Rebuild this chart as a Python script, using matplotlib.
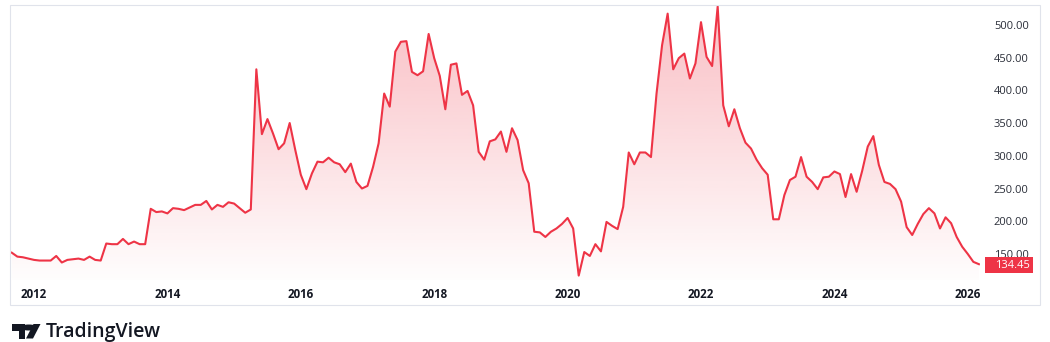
import numpy as np
import pandas as pd
import matplotlib
matplotlib.use("Agg")
import matplotlib.pyplot as plt
from matplotlib.patches import Polygon, Rectangle, Circle

# monthly closes, Sep 2011 .. Mar 2026
start = "2011-09-01"
values = [
    152, 146, 145, 143, 141, 140, 140, 140, 147, 137, 141, 142, 143, 141, 146, 141,
    140, 166, 165, 165, 173, 165, 169, 165, 165, 219, 214, 215, 212, 220, 219, 217,
    221, 225, 225, 231, 218, 225, 222, 229, 227, 220, 213, 218, 432, 333, 356, 334,
    310, 319, 350, 309, 271, 249, 273, 291, 290, 297, 290, 287, 275, 288, 260, 250,
    254, 283, 319, 395, 375, 459, 474, 475, 428, 423, 429, 486, 449, 422, 371, 439,
    441, 393, 399, 377, 306, 294, 322, 325, 337, 306, 342, 324, 278, 258, 184, 183,
    176, 184, 189, 196, 205, 189, 117, 153, 147, 165, 154, 199, 193, 188, 222, 305,
    287, 305, 305, 298, 395, 469, 517, 432, 449, 456, 418, 441, 504, 451, 437, 528,
    377, 345, 371, 342, 320, 311, 294, 281, 271, 203, 203, 240, 263, 268, 298, 268,
    260, 249, 267, 268, 276, 272, 237, 272, 245, 277, 314, 330, 286, 260, 257, 249,
    230, 191, 179, 196, 211, 220, 212, 189, 206, 197, 176, 161, 150, 138, 134.45,
]
year_ticks = [2012, 2014, 2016, 2018, 2020, 2022, 2024, 2026]
price_ticks = [150, 200, 250, 300, 350, 400, 450, 500]
last_price = values[-1]

dates = pd.date_range(start, periods=len(values), freq="MS")
t = np.array(dates.year + (dates.month - 1) / 12.0)
v = np.array(values, dtype=float)

red = "#ee3446"
text_col = "#131722"
W, H = 1050, 342

fig = plt.figure(figsize=(W / 100, H / 100), dpi=100)
fig.patch.set_facecolor("white")
plt.rcParams["font.family"] = ["Open Sans", "DejaVu Sans"]

# pane: x 10..980, y 5..280 (pixels)
ax = fig.add_axes([10 / W, (H - 280) / H, 970 / W, 275 / H])
ax.set_facecolor("white")
x_lo, x_hi = 2011.640, 2026.183
y_lo, y_hi = 110.3, 530.2
ax.set_xlim(x_lo, x_hi)
ax.set_ylim(y_lo, y_hi)

# gradient area under the line
rgb = matplotlib.colors.to_rgb(red)
n = 256
grad = np.zeros((n, 1, 4))
grad[..., 0], grad[..., 1], grad[..., 2] = rgb
grad[:, 0, 3] = np.linspace(0.32, 0.01, n)
im = ax.imshow(grad, extent=[x_lo, x_hi, y_lo, y_hi], aspect="auto",
               origin="upper", zorder=1, interpolation="bilinear")
verts = [(t[0], y_lo)] + list(zip(t, v)) + [(t[-1], y_lo)]
clip = Polygon(verts, closed=True, facecolor="none", edgecolor="none",
               transform=ax.transData)
ax.add_patch(clip)
im.set_clip_path(clip)

ax.plot(t, v, color=red, lw=1.5, zorder=3)

for s in ax.spines.values():
    s.set_visible(False)

ax.yaxis.tick_right()
ax.set_yticks(price_ticks)
ax.set_yticklabels([f"{p:.2f}" for p in price_ticks])
ax.tick_params(axis="y", length=0, pad=10, labelsize=8, labelcolor="#2a2e39")
ax.set_xticks(year_ticks)
ax.set_xticklabels([str(y) for y in year_ticks], fontweight="bold")
ax.tick_params(axis="x", length=0, pad=6, labelsize=8.3, labelcolor=text_col)
ax.grid(False)

# last price tag
fig.patches.append(Rectangle((985 / W, (H - 273) / H), 48 / W, 16 / H,
                             transform=fig.transFigure, facecolor=red,
                             edgecolor="none", zorder=5))
fig.text(995 / W, (H - 265) / H, f"{last_price:.2f}", color="white",
         fontsize=8, ha="left", va="center", zorder=6)

# outer frame
fig.patches.append(Rectangle((10 / W, (H - 305) / H), 1030 / W, 300 / H,
                             transform=fig.transFigure, facecolor="none",
                             edgecolor="#e0e3eb", lw=0.8))

# TradingView logo
def fp(x, y):
    return (x / W, (H - y) / H)

fig.patches.append(Polygon([fp(11.5, 324), fp(25, 324), fp(25, 338.5), fp(18.5, 338.5),
                            fp(18.5, 330.5), fp(11.5, 330.5)], closed=True,
                           transform=fig.transFigure, facecolor=text_col))
fig.patches.append(Circle(fp(28.8, 327.5), 3.0 / H, transform=fig.transFigure,
                          facecolor=text_col))
fig.patches.append(Polygon([fp(33.5, 324), fp(40.5, 324), fp(33, 338.5), fp(26, 338.5)],
                           closed=True, transform=fig.transFigure, facecolor=text_col))
fig.text(46 / W, (H - 337) / H, "TradingView", fontsize=14, fontweight="semibold",
         color=text_col, ha="left", va="baseline")

fig.savefig("out.png", dpi=100, facecolor="white")
